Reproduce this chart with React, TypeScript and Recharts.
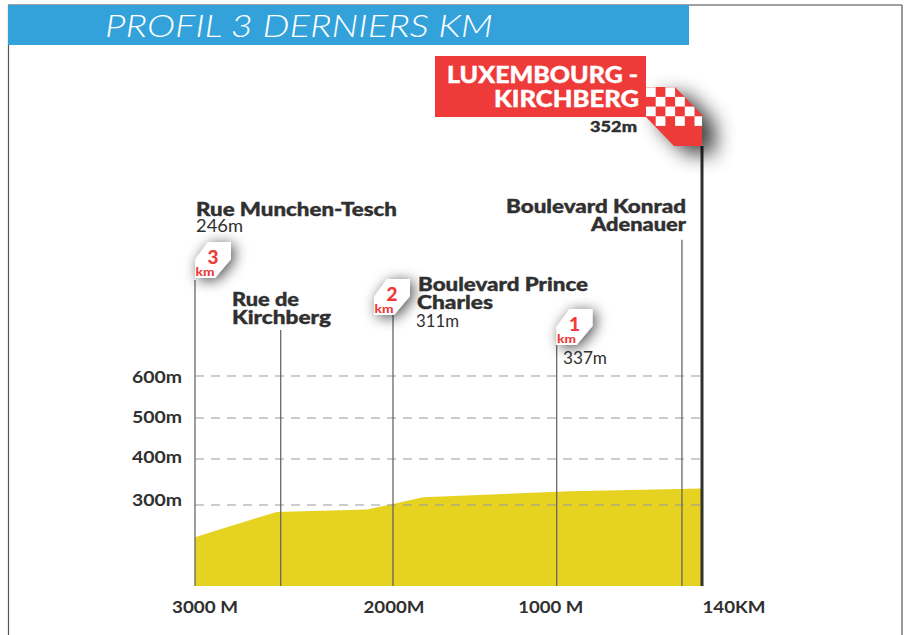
import type { FC } from "react";
import {
  Area,
  AreaChart,
  ReferenceLine,
  XAxis,
  YAxis,
} from "recharts";

// metres to the finish, read along the bottom axis
const distances = [3000, 2876, 2587, 2132, 2000, 1817, 1591, 1000, 908, 0];
// altitude as the printed axis reads it
const altitudes = [230, 247, 285, 290, 302, 317, 320, 329, 330, 336];

const xTicks = [3000, 2000, 1000, 0];
const xTickLabels = ["3000 M", "2000M", "1000 M", "140KM"];
const yTicks = [600, 500, 400, 300];

const poleDistances = [3000, 2567, 2000, 1000, 138];
const poleTops = [831, 711, 747, 675, 928];
const finishTop = 1154;

const profileRows = distances.map((distance, i) => ({
  distance,
  altitude: altitudes[i],
}));

const WIDTH = 907;
const HEIGHT = 635;
const DARK = "#303030";
const RED = "#ee3a39";
const LABEL_FONT = "Lato, 'Open Sans', sans-serif";

// The printed axes are not evenly spaced, so both scales are piecewise linear.
const piecewiseScale = (stops: number[], fractions: number[]) => {
  const build = (dom: number[], rng: number[]) => {
    const scale: any = (value: number) => {
      let i = 0;
      while (i < stops.length - 2 && value > stops[i + 1]) i += 1;
      const t = (value - stops[i]) / (stops[i + 1] - stops[i]);
      const f = fractions[i] + t * (fractions[i + 1] - fractions[i]);
      return rng[0] + f * (rng[1] - rng[0]);
    };
    scale.domain = (d?: number[]) => (d ? build(d, rng) : dom);
    scale.range = (r?: number[]) => (r ? build(dom, r) : rng);
    scale.copy = () => build(dom, rng);
    scale.ticks = () => stops;
    return scale;
  };
  return build([stops[0], stops[stops.length - 1]], [0, 1]);
};

const xScale = piecewiseScale([0, 1000, 2000, 3000], [1, 0.7134, 0.3905, 0]);
const yScale = piecewiseScale(
  [124, 300, 400, 500, 600, 1154],
  [0, 0.1841, 0.2886, 0.3818, 0.4773, 1],
);

// the printed labels do not sit exactly on their ticks
const xTickOffsets = [10, 1, -6, 32];
const xTickWidths = [66, 61, 65, 63];
const yTickOffsets = [1, -1, -2, -5];

const DistanceTick: FC<any> = ({ x, y, payload }) => {
  const i = xTicks.indexOf(payload.value);
  return (
    <text
      x={x + xTickOffsets[i]}
      y={y}
      textAnchor="middle"
      fontFamily={LABEL_FONT}
      fontWeight={700}
      fontSize={17}
      fill={DARK}
      textLength={xTickWidths[i]}
      lengthAdjust="spacingAndGlyphs"
    >
      {xTickLabels[i]}
    </text>
  );
};

const AltitudeTick: FC<any> = ({ x, y, payload }) => {
  const i = yTicks.indexOf(payload.value);
  return (
    <text
      x={x + 1}
      y={y + yTickOffsets[i] + 6}
      textAnchor="end"
      fontFamily={LABEL_FONT}
      fontWeight={700}
      fontSize={17}
      fill={DARK}
      textLength={50}
      lengthAdjust="spacingAndGlyphs"
    >
      {`${payload.value}m`}
    </text>
  );
};

const Label: FC<{
  x: number;
  y: number;
  text: string;
  width: number;
  size?: number;
  weight?: number;
  anchor?: "start" | "end";
  fill?: string;
}> = ({ x, y, text, width, size = 19, weight = 900, anchor = "start", fill = DARK }) => (
  <text
    x={x}
    y={y}
    textAnchor={anchor}
    fontFamily={LABEL_FONT}
    fontWeight={weight}
    fontSize={size}
    fill={fill}
    stroke={weight > 400 ? fill : "none"}
    strokeWidth={0.4}
    textLength={width}
    lengthAdjust="spacingAndGlyphs"
  >
    {text}
  </text>
);

const KmMarker: FC<{ x: number; y: number; km: string }> = ({ x, y, km }) => (
  <g transform={`translate(${x} ${y})`}>
    <polygon
      points="0,0 0,-18 13,-36 36,-36 36,-19 20,0"
      fill="#fff"
      filter="url(#softShadow)"
    />
    <text
      x={18}
      y={-14}
      textAnchor="middle"
      fontFamily={LABEL_FONT}
      fontWeight={900}
      fontSize={19}
      fill={RED}
    >
      {km}
    </text>
    <text
      x={10}
      y={-2}
      textAnchor="middle"
      fontFamily={LABEL_FONT}
      fontWeight={900}
      fontSize={12}
      fill={RED}
      textLength={19}
      lengthAdjust="spacingAndGlyphs"
    >
      km
    </text>
  </g>
);

const checkerCols = [646, 655.7, 665.4, 675.1, 684.8, 694.5];
const checkerRows = [
  { y: 87.3, cols: [0, 2] },
  { y: 96.9, cols: [1, 3] },
  { y: 106.6, cols: [0, 2, 4] },
  { y: 116.3, cols: [1, 3, 5] },
];
const FLAG_TAIL = "646,87 675,87 702,115 702,146 674,146 646,117";

const Overlay: FC = () => (
  <svg
    width={WIDTH}
    height={HEIGHT}
    style={{ position: "absolute", left: 0, top: 0, pointerEvents: "none" }}
  >
    <defs>
      <filter id="softShadow" x="-100%" y="-100%" width="300%" height="300%">
        <feDropShadow dx="3" dy="2" stdDeviation="7" floodColor="#000" floodOpacity="0.7" />
      </filter>
      <filter id="flagShadow" x="-100%" y="-100%" width="300%" height="300%">
        <feGaussianBlur stdDeviation="10" />
      </filter>
      <clipPath id="flagClip">
        <polygon points={FLAG_TAIL} />
      </clipPath>
    </defs>

    {/* frame */}
    <line x1={8.5} y1={5} x2={8.5} y2={HEIGHT} stroke="#555" strokeWidth={1.2} />
    <line x1={8} y1={5} x2={902} y2={5} stroke="#444" strokeWidth={1.2} />
    <line x1={902} y1={5} x2={902} y2={HEIGHT} stroke="#555" strokeWidth={1.2} />

    {/* title band */}
    <rect x={8} y={5} width={681} height={40} fill="#33a2db" />
    <text
      x={105}
      y={36.5}
      fontFamily="Lato, sans-serif"
      fontStyle="italic"
      fontWeight={300}
      fontSize={32}
      fill="#fff"
      textLength={388}
      lengthAdjust="spacingAndGlyphs"
    >
      PROFIL 3 DERNIERS KM
    </text>

    {/* finish flag */}
    <polygon
      points={FLAG_TAIL}
      transform="translate(13 8)"
      fill="#000"
      opacity={0.75}
      filter="url(#flagShadow)"
    />
    <rect x={435} y={56} width={211} height={61} fill={RED} />
    <polygon points={FLAG_TAIL} fill={RED} />
    <g clipPath="url(#flagClip)">
      {checkerRows.flatMap((row) =>
        row.cols.map((c) => (
          <rect
            key={`${row.y}-${c}`}
            x={checkerCols[c]}
            y={row.y}
            width={9.7}
            height={9.6}
            fill="#fff"
          />
        )),
      )}
    </g>
    <Label x={638} y={83} text="LUXEMBOURG -" width={191} size={23} anchor="end" fill="#fff" />
    <Label x={639} y={106.5} text="KIRCHBERG" width={145} size={23} anchor="end" fill="#fff" />
    <Label x={637} y={132} text="352m" width={47} size={15} anchor="end" />

    {/* climb notes */}
    <Label x={196} y={216} text="Rue Munchen-Tesch" width={201} />
    <Label x={196} y={232} text="246m" width={47} size={17} weight={400} />
    <Label x={232} y={306} text="Rue de" width={67} />
    <Label x={232} y={323.5} text="Kirchberg" width={99} />
    <Label x={418} y={291} text="Boulevard Prince" width={170} />
    <Label x={417} y={308.5} text="Charles" width={76} />
    <Label x={416} y={327} text="311m" width={43} size={17} weight={400} />
    <Label x={563} y={364} text="337m" width={44} size={17} weight={400} />
    <Label x={686} y={213} text="Boulevard Konrad" width={180} anchor="end" />
    <Label x={686} y={231} text="Adenauer" width={95} anchor="end" />

    <KmMarker x={195} y={278} km="3" />
    <KmMarker x={374} y={315} km="2" />
    <KmMarker x={556.5} y={345} km="1" />
  </svg>
);

export default function App() {
  return (
    <div style={{ position: "absolute", left: 0, top: 0, width: WIDTH, height: HEIGHT, background: "#fff" }}>
      <AreaChart
        width={WIDTH}
        height={HEIGHT}
        data={profileRows}
        margin={{ top: 146, right: 205, left: 135, bottom: 19 }}
      >
        <XAxis
          dataKey="distance"
          type="number"
          domain={[3000, 0]}
          scale={xScale}
          ticks={xTicks}
          interval={0}
          axisLine={false}
          tickLine={false}
          height={30}
          tickMargin={21}
          tick={<DistanceTick />}
        />
        <YAxis
          type="number"
          domain={[124, 1154]}
          scale={yScale}
          ticks={yTicks}
          interval={0}
          width={60}
          axisLine={false}
          tickLine={false}
          tickMargin={8}
          tick={<AltitudeTick />}
        />
        <Area
          type="linear"
          dataKey="altitude"
          stroke="none"
          fill="#e6d220"
          fillOpacity={1}
          isAnimationActive={false}
          dot={false}
          activeDot={false}
        />
        {yTicks.map((tick) => (
          <ReferenceLine
            key={tick}
            y={tick}
            stroke="#9a9a9a"
            strokeWidth={1}
            strokeDasharray="9 7"
          />
        ))}
        {poleDistances.map((distance, i) => (
          <ReferenceLine
            key={distance}
            segment={[
              { x: distance, y: 124 },
              { x: distance, y: poleTops[i] },
            ]}
            stroke="#5c5c5c"
            strokeWidth={1.2}
          />
        ))}
        <ReferenceLine
          segment={[
            { x: 0, y: 124 },
            { x: 0, y: finishTop },
          ]}
          stroke={DARK}
          strokeWidth={3}
        />
      </AreaChart>
      <Overlay />
    </div>
  );
}
